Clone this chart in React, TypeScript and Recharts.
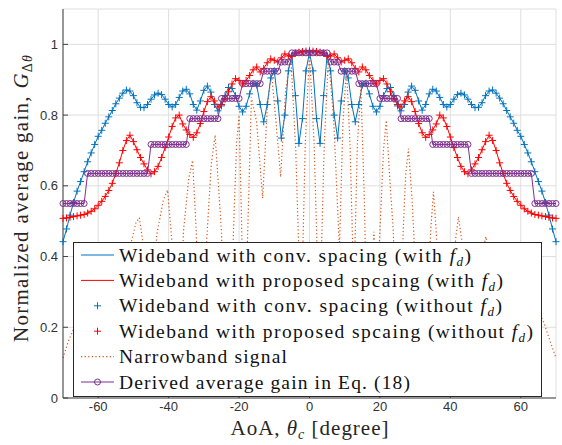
import React from 'react';
import { ComposedChart, Line, XAxis, YAxis, CartesianGrid, Legend } from 'recharts';

// AoA grid (degree)
const THETA = [
  -70, -69, -68, -67, -66, -65, -64, -63, -62, -61,
  -60, -59, -58, -57, -56, -55, -54, -53, -52, -51,
  -50, -49, -48, -47, -46, -45, -44, -43, -42, -41,
  -40, -39, -38, -37, -36, -35, -34, -33, -32, -31,
  -30, -29, -28, -27, -26, -25, -24, -23, -22, -21,
  -20, -19, -18, -17, -16, -15, -14, -13, -12, -11,
  -10, -9, -8, -7, -6, -5, -4, -3, -2, -1,
  0,
  1, 2, 3, 4, 5, 6, 7, 8, 9, 10,
  11, 12, 13, 14, 15, 16, 17, 18, 19, 20,
  21, 22, 23, 24, 25, 26, 27, 28, 29, 30,
  31, 32, 33, 34, 35, 36, 37, 38, 39, 40,
  41, 42, 43, 44, 45, 46, 47, 48, 49, 50,
  51, 52, 53, 54, 55, 56, 57, 58, 59, 60,
  61, 62, 63, 64, 65, 66, 67, 68, 69, 70,
];

// wideband, conventional spacing (with / without f_d overlap)
const CONV_GAIN = [
  0.442, 0.478, 0.517, 0.553, 0.585, 0.612, 0.64, 0.668, 0.693, 0.717,
  0.74, 0.757, 0.777, 0.795, 0.813, 0.832, 0.848, 0.862, 0.871, 0.868,
  0.855, 0.835, 0.822, 0.821, 0.83, 0.845, 0.857, 0.862, 0.858, 0.845,
  0.83, 0.823, 0.83, 0.85, 0.868, 0.873, 0.86, 0.83, 0.814, 0.84,
  0.87, 0.882, 0.865, 0.83, 0.812, 0.826, 0.855, 0.878, 0.875, 0.855,
  0.825, 0.809, 0.825, 0.86, 0.89, 0.885, 0.83, 0.781, 0.83, 0.905,
  0.925, 0.84, 0.735, 0.8, 0.925, 0.969, 0.855, 0.72, 0.79, 0.925,
  0.978,
  0.925, 0.79, 0.72, 0.855, 0.969, 0.925, 0.8, 0.735, 0.84, 0.925,
  0.905, 0.83, 0.781, 0.83, 0.885, 0.89, 0.86, 0.825, 0.809, 0.825,
  0.855, 0.875, 0.878, 0.855, 0.826, 0.812, 0.83, 0.865, 0.882, 0.87,
  0.84, 0.814, 0.83, 0.86, 0.873, 0.868, 0.85, 0.83, 0.823, 0.83,
  0.845, 0.858, 0.862, 0.857, 0.845, 0.83, 0.821, 0.822, 0.835, 0.855,
  0.868, 0.871, 0.862, 0.848, 0.832, 0.813, 0.795, 0.777, 0.757, 0.74,
  0.717, 0.693, 0.668, 0.64, 0.612, 0.585, 0.553, 0.517, 0.478, 0.442,
];

// wideband, proposed spacing
const PROP_GAIN = [
  0.508, 0.509, 0.511, 0.513, 0.515, 0.517, 0.519, 0.523, 0.528, 0.535,
  0.545, 0.556, 0.57, 0.587, 0.607, 0.635, 0.665, 0.7, 0.728, 0.743,
  0.725, 0.702, 0.68, 0.662, 0.645, 0.634, 0.64, 0.655, 0.68, 0.708,
  0.738, 0.768, 0.792, 0.8, 0.775, 0.758, 0.745, 0.737, 0.75, 0.776,
  0.81, 0.838, 0.852, 0.84, 0.823, 0.83, 0.845, 0.866, 0.888, 0.903,
  0.898, 0.888, 0.898, 0.912, 0.928, 0.936, 0.922, 0.932, 0.948, 0.959,
  0.955, 0.95, 0.962, 0.973, 0.967, 0.966, 0.975, 0.978, 0.98, 0.981,
  0.982,
  0.981, 0.98, 0.978, 0.975, 0.966, 0.967, 0.973, 0.962, 0.95, 0.955,
  0.959, 0.948, 0.932, 0.922, 0.936, 0.928, 0.912, 0.898, 0.888, 0.898,
  0.903, 0.888, 0.866, 0.845, 0.83, 0.823, 0.84, 0.852, 0.838, 0.81,
  0.776, 0.75, 0.737, 0.745, 0.758, 0.775, 0.8, 0.792, 0.768, 0.738,
  0.708, 0.68, 0.655, 0.64, 0.634, 0.645, 0.662, 0.68, 0.702, 0.725,
  0.743, 0.728, 0.7, 0.665, 0.635, 0.607, 0.587, 0.57, 0.556, 0.545,
  0.535, 0.528, 0.523, 0.519, 0.517, 0.515, 0.513, 0.511, 0.509, 0.508,
];

// derived average gain, Eq. (18)
const DERIVED_GAIN = [
  0.55, 0.55, 0.55, 0.55, 0.55, 0.55, 0.55, 0.635, 0.635, 0.635,
  0.635, 0.635, 0.635, 0.635, 0.635, 0.635, 0.635, 0.635, 0.635, 0.635,
  0.635, 0.635, 0.635, 0.635, 0.635, 0.717, 0.717, 0.717, 0.717, 0.717,
  0.717, 0.717, 0.717, 0.717, 0.717, 0.717, 0.79, 0.79, 0.79, 0.79,
  0.79, 0.79, 0.79, 0.79, 0.79, 0.847, 0.847, 0.847, 0.847, 0.847,
  0.847, 0.889, 0.889, 0.889, 0.889, 0.889, 0.889, 0.924, 0.924, 0.924,
  0.924, 0.924, 0.95, 0.95, 0.95, 0.976, 0.976, 0.976, 0.976, 0.976,
  0.976,
  0.976, 0.976, 0.976, 0.976, 0.976, 0.95, 0.95, 0.95, 0.924, 0.924,
  0.924, 0.924, 0.924, 0.889, 0.889, 0.889, 0.889, 0.889, 0.889, 0.847,
  0.847, 0.847, 0.847, 0.847, 0.847, 0.79, 0.79, 0.79, 0.79, 0.79,
  0.79, 0.79, 0.79, 0.79, 0.717, 0.717, 0.717, 0.717, 0.717, 0.717,
  0.717, 0.717, 0.717, 0.717, 0.717, 0.635, 0.635, 0.635, 0.635, 0.635,
  0.635, 0.635, 0.635, 0.635, 0.635, 0.635, 0.635, 0.635, 0.635, 0.635,
  0.635, 0.635, 0.635, 0.55, 0.55, 0.55, 0.55, 0.55, 0.55, 0.55,
];

// narrowband signal (own, finer angle samples)
const NB_THETA = [
  -70, -68.5, -67, -65.8, -64.8, -63.5, -60.5, -58.3, -57.2, -55.5,
  -52.5, -50.5, -49.3, -48.3, -47.4, -46.4, -45.2, -43.4, -41.5, -40.3,
  -39.1, -38.3, -37.4, -35.8, -34.3, -33.2, -32.2, -31.2, -30.4, -29.2,
  -27.9, -26.8, -25, -24, -23, -21.6, -20.7, -20, -19.3, -18.5,
  -17.6, -16.5, -15, -13.3, -12, -10.8, -9.5, -8.2, -6.8, -5.3,
  -3.9, -2.4, -1.2, 0, 1.3, 2.8, 4.2, 5.4, 6.9, 8.5,
  9.5, 10.5, 11.5, 12.6, 13.6, 14.6, 15.6, 16.5, 17.6, 18.3,
  19.1, 20, 21, 21.8, 22.8, 23.8, 24.8, 25.7, 26.6, 27.3,
  28.1, 29.2, 30.9, 31.8, 33.7, 34.4, 35.2, 36, 37, 38.6,
  40.7, 41.5, 42.3, 43.2, 44.4, 46.2, 48.5, 49.3, 50.1, 51,
  52.4, 54.5, 57, 58.3, 59.6, 62, 64.3, 65.5, 66.5, 68, 70,
];
const NB_GAIN = [
  0.113, 0.16, 0.195, 0.23, 0.15, 0.02, 0.2, 0.39, 0.25, 0.02,
  0.25, 0.446, 0.495, 0.51, 0.446, 0.2, 0.02, 0.46, 0.56, 0.588,
  0.446, 0.2, 0.02, 0.47, 0.62, 0.672, 0.48, 0.15, 0.02, 0.446,
  0.66, 0.743, 0.47, 0.15, 0.02, 0.47, 0.72, 0.8, 0.5, 0.1,
  0.45, 0.85, 0.78, 0.565, 0.82, 0.92, 0.78, 0.625, 0.87, 0.965,
  0.7, 0.2, 0.72, 0.978, 0.72, 0.2, 0.72, 0.965, 0.78, 0.42,
  0.78, 0.93, 0.72, 0.3, 0.72, 0.88, 0.55, 0.12, 0.35, 0.47,
  0.3, 0.47, 0.7, 0.785, 0.62, 0.47, 0.15, 0.02, 0.47, 0.63,
  0.705, 0.55, 0.2, 0.02, 0.3, 0.47, 0.583, 0.47, 0.2, 0.02,
  0.3, 0.45, 0.512, 0.45, 0.2, 0.02, 0.3, 0.42, 0.456, 0.4,
  0.2, 0.02, 0.25, 0.38, 0.2, 0.02, 0.15, 0.235, 0.215, 0.17, 0.113,
];

const X_TICKS = [-60, -40, -20, 0, 20, 40, 60];
const Y_TICKS = [0, 0.2, 0.4, 0.6, 0.8, 1];

const BLUE = '#0072BD';
const RED = '#FF0000';
const ORANGE = '#D95319';
const PURPLE = '#7E2F8E';
const AXIS = '#404040';
const SERIF = 'Liberation Serif';
const SANS = 'Liberation Sans';

const wideData = THETA.map((theta, i) => ({
  theta,
  conv: CONV_GAIN[i],
  prop: PROP_GAIN[i],
  derived: DERIVED_GAIN[i],
}));

const nbData = NB_THETA.map((theta, i) => ({ theta, nb: NB_GAIN[i] }));

const plusDot = (color: string) => (props: any) => {
  const { cx, cy, index } = props;
  if (cx == null || cy == null) return <g key={`e-${index}`} />;
  return (
    <path
      key={`p-${index}`}
      d={`M${cx - 3.5},${cy}H${cx + 3.5}M${cx},${cy - 3.5}V${cy + 3.5}`}
      stroke={color}
      strokeWidth={1}
      fill="none"
    />
  );
};

function FdSuffix() {
  return (
    <>
      <tspan fontStyle="italic">f</tspan>
      <tspan fontStyle="italic" fontSize={13} dy={4}>d</tspan>
      <tspan dy={-4}>)</tspan>
    </>
  );
}

const LEGEND_ROWS = [
  { text: 'Wideband with conv. spacing (with ', fd: true, kind: 'line', color: BLUE, width: 352 },
  { text: 'Wideband with proposed spcaing (with ', fd: true, kind: 'line', color: RED, width: 384 },
  { text: 'Wideband with conv. spacing (without ', fd: true, kind: 'plus', color: BLUE, width: 383 },
  { text: 'Wideband with proposed spcaing (without ', fd: true, kind: 'plus', color: RED, width: 414 },
  { text: 'Narrowband signal', fd: false, kind: 'dot', color: ORANGE, width: 168 },
  { text: 'Derived average gain in Eq. (18)', fd: false, kind: 'circle', color: PURPLE, width: 291 },
];

function renderLegend() {
  return (
    <svg width={470} height={156} style={{ display: 'block' }}>
      <rect x={0.5} y={0.5} width={468} height={154} fill="#fff" stroke="#262626" strokeWidth={1} />
      {LEGEND_ROWS.map((row, i) => {
        const cy = 13 + i * 25.4;
        return (
          <g key={row.text}>
            {row.kind !== 'plus' && (
              <line
                x1={8}
                x2={41}
                y1={cy}
                y2={cy}
                stroke={row.color}
                strokeWidth={row.kind === 'dot' ? 1.2 : 1}
                strokeDasharray={row.kind === 'dot' ? '1.2 2.4' : undefined}
              />
            )}
            {row.kind === 'plus' && (
              <path d={`M21,${cy}H28M24.5,${cy - 3.5}V${cy + 3.5}`} stroke={row.color} strokeWidth={1} />
            )}
            {row.kind === 'circle' && (
              <circle cx={24.5} cy={cy} r={3} fill="none" stroke={row.color} strokeWidth={1} />
            )}
            <text
              x={46}
              y={cy + 6.5}
              style={{ fontFamily: SERIF }}
              fontSize={19.5}
              fill="#111"
              textLength={row.width}
              lengthAdjust="spacing"
            >
              {row.text}
              {row.fd && <FdSuffix />}
            </text>
          </g>
        );
      })}
    </svg>
  );
}

const renderXLabel = () => (
  <text
    x={309.5}
    y={435}
    textAnchor="middle"
    style={{ fontFamily: SERIF }}
    fontSize={21}
    fill="#262626"
    textLength={158}
    lengthAdjust="spacing"
  >
    AoA, <tspan fontStyle="italic">θ</tspan>
    <tspan fontStyle="italic" fontSize={14} dy={4}>c</tspan>
    <tspan dy={-4}> [degree]</tspan>
  </text>
);

const renderYLabel = () => (
  <text
    transform="rotate(-90)"
    x={-198.5}
    y={28}
    textAnchor="middle"
    style={{ fontFamily: SERIF }}
    fontSize={21}
    fill="#262626"
    textLength={287}
    lengthAdjust="spacing"
  >
    Normalized average gain, <tspan fontStyle="italic">G</tspan>
    <tspan fontSize={14} dy={4}>Δ</tspan>
    <tspan fontSize={14} fontStyle="italic">θ</tspan>
  </text>
);

export default function App() {
  return (
    <div style={{ position: 'absolute', left: 0, top: 0, width: 562, height: 445, background: '#fff' }}>
      <ComposedChart
        width={562}
        height={445}
        data={wideData}
        margin={{ top: 9, right: 6, bottom: 0, left: 0 }}
      >
        <CartesianGrid stroke="#dedede" strokeWidth={1} />
        <XAxis
          dataKey="theta"
          type="number"
          domain={[-70, 70]}
          ticks={X_TICKS}
          interval={0}
          height={47}
          tickSize={-5}
          tickMargin={9}
          axisLine={{ stroke: AXIS }}
          tickLine={{ stroke: AXIS }}
          tick={{ fill: '#333', fontSize: 13, fontFamily: SANS }}
          label={renderXLabel}
        />
        <XAxis
          xAxisId="top"
          orientation="top"
          type="number"
          domain={[-70, 70]}
          ticks={X_TICKS}
          interval={0}
          height={0}
          tickSize={-5}
          tick={false}
          axisLine={{ stroke: AXIS }}
          tickLine={{ stroke: AXIS }}
        />
        <YAxis
          type="number"
          domain={[0, 1.1]}
          ticks={Y_TICKS}
          interval={0}
          width={63}
          tickSize={-5}
          tickMargin={10}
          axisLine={{ stroke: AXIS }}
          tickLine={{ stroke: AXIS }}
          tick={{ fill: '#333', fontSize: 13, fontFamily: SANS }}
          label={renderYLabel}
        />
        <YAxis
          yAxisId="right"
          orientation="right"
          type="number"
          domain={[0, 1.1]}
          ticks={Y_TICKS}
          interval={0}
          width={0}
          tickSize={-5}
          tick={false}
          axisLine={{ stroke: AXIS }}
          tickLine={{ stroke: AXIS }}
        />
        <Line
          name="Wideband with conv. spacing (with fd)"
          dataKey="conv"
          stroke={BLUE}
          strokeWidth={1}
          dot={false}
          activeDot={false}
          isAnimationActive={false}
        />
        <Line
          name="Wideband with proposed spcaing (with fd)"
          dataKey="prop"
          stroke={RED}
          strokeWidth={1}
          dot={false}
          activeDot={false}
          isAnimationActive={false}
        />
        <Line
          name="Wideband with conv. spacing (without fd)"
          dataKey="conv"
          stroke="none"
          dot={plusDot(BLUE)}
          activeDot={false}
          isAnimationActive={false}
        />
        <Line
          name="Wideband with proposed spcaing (without fd)"
          dataKey="prop"
          stroke="none"
          dot={plusDot(RED)}
          activeDot={false}
          isAnimationActive={false}
        />
        <Line
          name="Narrowband signal"
          data={nbData}
          dataKey="nb"
          stroke={ORANGE}
          strokeWidth={1.2}
          strokeDasharray="1.2 2.4"
          dot={false}
          activeDot={false}
          isAnimationActive={false}
        />
        <Line
          name="Derived average gain in Eq. (18)"
          dataKey="derived"
          stroke={PURPLE}
          strokeWidth={1}
          dot={{ r: 3, stroke: PURPLE, strokeWidth: 1, fill: 'none' }}
          activeDot={false}
          isAnimationActive={false}
        />
        <Legend
          layout="horizontal"
          verticalAlign="middle"
          align="center"
          content={renderLegend}
          wrapperStyle={{ left: 73, top: 242, width: 470, height: 156 }}
        />
      </ComposedChart>
    </div>
  );
}
